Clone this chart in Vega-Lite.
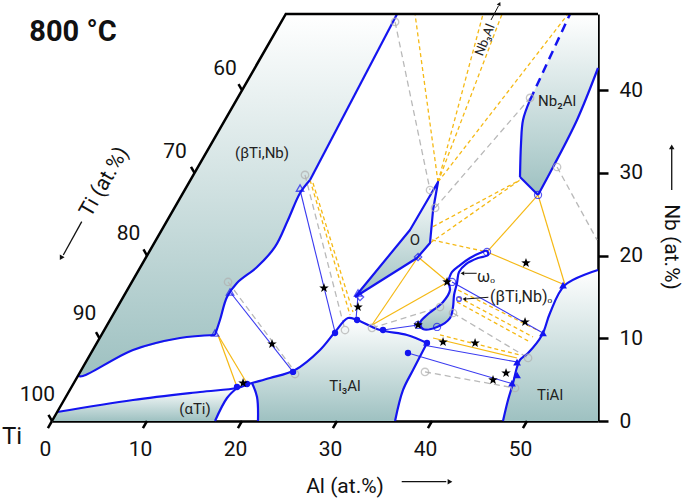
{
"$schema":"https://vega.github.io/schema/vega-lite/v6.json",
"width":546,"height":407,
"autosize":{"type":"none"},
"padding":{"left":52,"top":14,"right":87,"bottom":77},
"background":"white",
"config":{"view":{"stroke":null},"font":"Roboto"},
"datasets":{
"poly":[
{"id":"beta","i":0,"x":2.72,"nb":5.44},{"id":"beta","i":1,"x":24.61,"nb":49.21},{"id":"beta","i":2,"x":36.32,"nb":49.21},{"id":"beta","i":3,"x":27.16,"nb":29.14},{"id":"beta","i":4,"x":26.11,"nb":27.57},{"id":"beta","i":5,"x":24.84,"nb":24.30},{"id":"beta","i":6,"x":23.47,"nb":21.04},{"id":"beta","i":7,"x":21.58,"nb":18.62},{"id":"beta","i":8,"x":19.47,"nb":16.69},{"id":"beta","i":9,"x":18.42,"nb":14.99},{"id":"beta","i":10,"x":17.68,"nb":12.21},{"id":"beta","i":11,"x":17.16,"nb":10.40},{"id":"beta","i":12,"x":13.47,"nb":10.04},{"id":"beta","i":13,"x":8.53,"nb":8.59},{"id":"beta","i":14,"x":3.26,"nb":5.44},
{"id":"alpha","i":0,"x":0.55,"nb":1.09},{"id":"alpha","i":1,"x":8.53,"nb":2.54},{"id":"alpha","i":2,"x":15.58,"nb":3.51},{"id":"alpha","i":3,"x":19.47,"nb":3.99},{"id":"alpha","i":4,"x":18.42,"nb":2.78},{"id":"alpha","i":5,"x":17.16,"nb":0},{"id":"alpha","i":6,"x":0,"nb":0},
{"id":"ti3al","i":0,"x":21.68,"nb":0},{"id":"ti3al","i":1,"x":21.58,"nb":2.90},{"id":"ti3al","i":2,"x":21.05,"nb":4.59},{"id":"ti3al","i":3,"x":22.95,"nb":5.20},{"id":"ti3al","i":4,"x":25.58,"nb":6.17},{"id":"ti3al","i":5,"x":28.21,"nb":8.59},{"id":"ti3al","i":6,"x":29.79,"nb":10.76},{"id":"ti3al","i":7,"x":31.16,"nb":12.45},{"id":"ti3al","i":8,"x":32.11,"nb":12.21},{"id":"ti3al","i":9,"x":34.53,"nb":11.00},{"id":"ti3al","i":10,"x":37.37,"nb":10.40},{"id":"ti3al","i":11,"x":39.47,"nb":9.43},{"id":"ti3al","i":12,"x":38.00,"nb":6.17},{"id":"ti3al","i":13,"x":36.95,"nb":3.75},{"id":"ti3al","i":14,"x":36.11,"nb":0},
{"id":"tial","i":0,"x":47.47,"nb":0},{"id":"tial","i":1,"x":48.00,"nb":2.54},{"id":"tial","i":2,"x":48.53,"nb":4.59},{"id":"tial","i":3,"x":48.95,"nb":6.53},{"id":"tial","i":4,"x":49.26,"nb":7.38},{"id":"tial","i":5,"x":50.11,"nb":8.22},{"id":"tial","i":6,"x":51.58,"nb":10.40},{"id":"tial","i":7,"x":52.42,"nb":13.06},{"id":"tial","i":8,"x":54.00,"nb":16.44},{"id":"tial","i":9,"x":57.47,"nb":18.26},{"id":"tial","i":10,"x":57.47,"nb":0},
{"id":"nb2al","i":0,"x":50.32,"nb":38.82},{"id":"nb2al","i":1,"x":49.58,"nb":36.40},{"id":"nb2al","i":2,"x":49.37,"nb":33.62},{"id":"nb2al","i":3,"x":49.26,"nb":29.50},{"id":"nb2al","i":4,"x":50.63,"nb":27.93},{"id":"nb2al","i":5,"x":51.16,"nb":27.33},{"id":"nb2al","i":6,"x":52.74,"nb":30.71},{"id":"nb2al","i":7,"x":55.26,"nb":36.40},{"id":"nb2al","i":8,"x":57.47,"nb":42.68},{"id":"nb2al","i":9,"x":57.47,"nb":49.21},{"id":"nb2al","i":10,"x":54.53,"nb":49.21},
{"id":"o","i":0,"x":31.89,"nb":14.99},{"id":"o","i":1,"x":37.68,"nb":23.10},{"id":"o","i":2,"x":40.63,"nb":28.90},{"id":"o","i":3,"x":40.11,"nb":25.51},{"id":"o","i":4,"x":39.79,"nb":21.52},{"id":"o","i":5,"x":38.42,"nb":19.71},
{"id":"bo","i":0,"x":42.63,"nb":16.69},{"id":"bo","i":1,"x":42.32,"nb":15.24},{"id":"bo","i":2,"x":42.21,"nb":13.78},{"id":"bo","i":3,"x":41.89,"nb":12.45},{"id":"bo","i":4,"x":40.53,"nb":11.37},{"id":"bo","i":5,"x":39.05,"nb":11.12},{"id":"bo","i":6,"x":38.74,"nb":11.85},{"id":"bo","i":7,"x":39.47,"nb":12.82},{"id":"bo","i":8,"x":41.16,"nb":14.39},{"id":"bo","i":9,"x":41.89,"nb":15.84},{"id":"bo","i":10,"x":41.68,"nb":16.81}
],
"lines":[
{"k":"b","id":"b1a","i":0,"x":36.32,"nb":49.21},{"k":"b","id":"b1a","i":1,"x":27.16,"nb":29.14},
{"k":"b","id":"b1b","i":0,"x":27.16,"nb":29.14},{"k":"b","id":"b1b","i":1,"x":26.11,"nb":27.57},{"k":"b","id":"b1b","i":2,"x":24.84,"nb":24.30},{"k":"b","id":"b1b","i":3,"x":23.47,"nb":21.04},{"k":"b","id":"b1b","i":4,"x":21.58,"nb":18.62},{"k":"b","id":"b1b","i":5,"x":19.47,"nb":16.69},{"k":"b","id":"b1b","i":6,"x":18.42,"nb":14.99},{"k":"b","id":"b1b","i":7,"x":17.68,"nb":12.21},{"k":"b","id":"b1b","i":8,"x":17.16,"nb":10.40},
{"k":"b","id":"b1c","i":0,"x":17.16,"nb":10.40},{"k":"b","id":"b1c","i":1,"x":13.47,"nb":10.04},{"k":"b","id":"b1c","i":2,"x":8.53,"nb":8.59},{"k":"b","id":"b1c","i":3,"x":3.26,"nb":5.44},{"k":"b","id":"b1c","i":4,"x":2.72,"nb":5.44},
{"k":"b","id":"b2","i":0,"x":0.55,"nb":1.09},{"k":"b","id":"b2","i":1,"x":8.53,"nb":2.54},{"k":"b","id":"b2","i":2,"x":15.58,"nb":3.51},{"k":"b","id":"b2","i":3,"x":19.47,"nb":3.99},{"k":"b","id":"b2","i":4,"x":20.53,"nb":4.40},{"k":"b","id":"b2","i":5,"x":21.05,"nb":4.59},{"k":"b","id":"b2","i":6,"x":22.95,"nb":5.20},{"k":"b","id":"b2","i":7,"x":25.58,"nb":6.17},{"k":"b","id":"b2","i":8,"x":28.21,"nb":8.59},{"k":"b","id":"b2","i":9,"x":29.79,"nb":10.76},{"k":"b","id":"b2","i":10,"x":31.16,"nb":12.45},{"k":"b","id":"b2","i":11,"x":32.11,"nb":12.21},{"k":"b","id":"b2","i":12,"x":34.53,"nb":11.00},{"k":"b","id":"b2","i":13,"x":37.37,"nb":10.40},{"k":"b","id":"b2","i":14,"x":39.47,"nb":9.43},
{"k":"b","id":"b3","i":0,"x":19.47,"nb":3.99},{"k":"b","id":"b3","i":1,"x":18.42,"nb":2.78},{"k":"b","id":"b3","i":2,"x":17.16,"nb":0},
{"k":"b","id":"b4","i":0,"x":21.05,"nb":4.59},{"k":"b","id":"b4","i":1,"x":21.58,"nb":2.90},{"k":"b","id":"b4","i":2,"x":21.68,"nb":0},
{"k":"b","id":"b5","i":0,"x":39.47,"nb":9.43},{"k":"b","id":"b5","i":1,"x":38.00,"nb":6.17},{"k":"b","id":"b5","i":2,"x":36.95,"nb":3.75},{"k":"b","id":"b5","i":3,"x":36.11,"nb":0},
{"k":"b","id":"b6","i":0,"x":47.47,"nb":0},{"k":"b","id":"b6","i":1,"x":48.00,"nb":2.54},{"k":"b","id":"b6","i":2,"x":48.53,"nb":4.59},{"k":"b","id":"b6","i":3,"x":48.95,"nb":6.53},{"k":"b","id":"b6","i":4,"x":49.26,"nb":7.38},{"k":"b","id":"b6","i":5,"x":50.11,"nb":8.22},{"k":"b","id":"b6","i":6,"x":51.58,"nb":10.40},{"k":"b","id":"b6","i":7,"x":52.42,"nb":13.06},{"k":"b","id":"b6","i":8,"x":54.00,"nb":16.44},{"k":"b","id":"b6","i":9,"x":57.47,"nb":18.26},
{"k":"b","id":"b7a","i":0,"x":50.32,"nb":38.82},{"k":"b","id":"b7a","i":1,"x":49.58,"nb":36.40},{"k":"b","id":"b7a","i":2,"x":49.37,"nb":33.62},{"k":"b","id":"b7a","i":3,"x":49.26,"nb":29.50},
{"k":"b","id":"b7b","i":0,"x":49.26,"nb":29.50},{"k":"b","id":"b7b","i":1,"x":51.16,"nb":27.33},
{"k":"b","id":"b7c","i":0,"x":51.16,"nb":27.33},{"k":"b","id":"b7c","i":1,"x":52.74,"nb":30.71},{"k":"b","id":"b7c","i":2,"x":55.26,"nb":36.40},{"k":"b","id":"b7c","i":3,"x":57.47,"nb":42.68},
{"k":"bl","id":"b8","i":0,"x":31.89,"nb":14.99},{"k":"bl","id":"b8","i":1,"x":37.68,"nb":23.10},{"k":"bl","id":"b8","i":2,"x":40.63,"nb":28.90},{"k":"bl","id":"b8","i":3,"x":40.11,"nb":25.51},{"k":"bl","id":"b8","i":4,"x":39.79,"nb":21.52},{"k":"bl","id":"b8","i":5,"x":38.42,"nb":19.71},{"k":"bl","id":"b8","i":6,"x":31.89,"nb":14.99},
{"k":"b","id":"b9","i":0,"x":41.68,"nb":16.81},{"k":"b","id":"b9","i":1,"x":42.11,"nb":18.02},{"k":"b","id":"b9","i":2,"x":42.95,"nb":18.86},{"k":"b","id":"b9","i":3,"x":44.00,"nb":19.71},{"k":"b","id":"b9","i":4,"x":45.05,"nb":20.31},{"k":"b","id":"b9","i":5,"x":45.79,"nb":20.56},{"k":"b","id":"b9","i":6,"x":45.89,"nb":20.07},{"k":"b","id":"b9","i":7,"x":44.84,"nb":19.71},{"k":"b","id":"b9","i":8,"x":43.58,"nb":18.98},{"k":"b","id":"b9","i":9,"x":42.84,"nb":18.02},{"k":"b","id":"b9","i":10,"x":42.63,"nb":16.69},{"k":"b","id":"b9","i":11,"x":42.32,"nb":15.24},{"k":"b","id":"b9","i":12,"x":42.21,"nb":13.78},{"k":"b","id":"b9","i":13,"x":41.89,"nb":12.45},{"k":"b","id":"b9","i":14,"x":40.53,"nb":11.37},{"k":"b","id":"b9","i":15,"x":39.05,"nb":11.12},{"k":"b","id":"b9","i":16,"x":38.74,"nb":11.85},{"k":"b","id":"b9","i":17,"x":39.47,"nb":12.82},{"k":"b","id":"b9","i":18,"x":41.16,"nb":14.39},{"k":"b","id":"b9","i":19,"x":41.89,"nb":15.84},{"k":"b","id":"b9","i":20,"x":41.68,"nb":16.81},
{"k":"bd","id":"bd1","i":0,"x":50.32,"nb":38.82},{"k":"bd","id":"bd1","i":1,"x":54.53,"nb":49.21},
{"k":"t","id":"t1","i":0,"x":18.74,"nb":15.60},{"k":"t","id":"t1","i":1,"x":25.37,"nb":5.93},
{"k":"t","id":"t2","i":0,"x":26.11,"nb":27.93},{"k":"t","id":"t2","i":1,"x":29.79,"nb":10.76},
{"k":"t","id":"t3","i":0,"x":42.11,"nb":16.81},{"k":"t","id":"t3","i":1,"x":51.68,"nb":10.64},
{"k":"t","id":"t4","i":0,"x":39.05,"nb":9.19},{"k":"t","id":"t4","i":1,"x":48.95,"nb":7.13},
{"k":"t","id":"t5","i":0,"x":37.47,"nb":8.22},{"k":"t","id":"t5","i":1,"x":48.21,"nb":4.59},
{"k":"t","id":"t6","i":0,"x":32.21,"nb":15.2},{"k":"t","id":"t6","i":1,"x":32.0,"nb":12.3},
{"k":"t","id":"t7","i":0,"x":34.84,"nb":11.00},{"k":"t","id":"t7","i":1,"x":38.53,"nb":11.61},
{"k":"g","id":"g1","i":0,"x":36.11,"nb":48.25},{"k":"g","id":"g1","i":1,"x":39.79,"nb":27.93},
{"k":"g","id":"g2","i":0,"x":40.32,"nb":25.76},{"k":"g","id":"g2","i":1,"x":50.32,"nb":39.06},
{"k":"g","id":"g3","i":0,"x":53.16,"nb":30.71},{"k":"g","id":"g3","i":1,"x":57.37,"nb":21.89},
{"k":"g","id":"g4","i":0,"x":26.63,"nb":29.75},{"k":"g","id":"g4","i":1,"x":30.84,"nb":11.00},
{"k":"g","id":"g5","i":0,"x":18.53,"nb":16.81},{"k":"g","id":"g5","i":1,"x":25.58,"nb":5.93},
{"k":"g","id":"g6","i":0,"x":33.68,"nb":11.25},{"k":"g","id":"g6","i":1,"x":40.84,"nb":13.78},
{"k":"g","id":"g7","i":0,"x":39.26,"nb":5.93},{"k":"g","id":"g7","i":1,"x":48.74,"nb":3.99},
{"k":"g","id":"g8","i":0,"x":42.21,"nb":13.06},{"k":"g","id":"g8","i":1,"x":50.11,"nb":7.62},
{"k":"o","id":"o1","i":0,"x":17.47,"nb":10.40},{"k":"o","id":"o1","i":1,"x":19.47,"nb":4.11},
{"k":"o","id":"o2","i":0,"x":17.47,"nb":10.40},{"k":"o","id":"o2","i":1,"x":20.63,"nb":4.35},
{"k":"o","id":"o3","i":0,"x":33.68,"nb":11.61},{"k":"o","id":"o3","i":1,"x":38.53,"nb":19.83},
{"k":"o","id":"o4","i":0,"x":33.68,"nb":11.61},{"k":"o","id":"o4","i":1,"x":41.68,"nb":16.81},
{"k":"o","id":"o5","i":0,"x":38.53,"nb":19.83},{"k":"o","id":"o5","i":1,"x":41.68,"nb":16.81},
{"k":"o","id":"o6","i":0,"x":45.79,"nb":20.44},{"k":"o","id":"o6","i":1,"x":54.00,"nb":16.44},
{"k":"o","id":"o7","i":0,"x":45.79,"nb":20.44},{"k":"o","id":"o7","i":1,"x":51.16,"nb":27.33},
{"k":"o","id":"o8","i":0,"x":51.16,"nb":27.33},{"k":"o","id":"o8","i":1,"x":54.00,"nb":16.44},
{"k":"o","id":"o9","i":0,"x":40.11,"nb":10.04},{"k":"o","id":"o9","i":1,"x":48.95,"nb":7.62},
{"k":"d","id":"d1","i":0,"x":40.63,"nb":28.90},{"k":"d","id":"d1","i":1,"x":38.21,"nb":49.21},
{"k":"d","id":"d2","i":0,"x":40.63,"nb":28.90},{"k":"d","id":"d2","i":1,"x":45.37,"nb":49.21},
{"k":"d","id":"d3","i":0,"x":40.63,"nb":28.90},{"k":"d","id":"d3","i":1,"x":47.37,"nb":49.21},
{"k":"d","id":"d4","i":0,"x":40.63,"nb":28.90},{"k":"d","id":"d4","i":1,"x":54.32,"nb":49.21},
{"k":"d","id":"d5","i":0,"x":40.11,"nb":23.5},{"k":"d","id":"d5","i":1,"x":49.26,"nb":29.14},
{"k":"d","id":"d6","i":0,"x":39.79,"nb":21.52},{"k":"d","id":"d6","i":1,"x":49.26,"nb":29.14},
{"k":"d","id":"d7","i":0,"x":27.16,"nb":29.14},{"k":"d","id":"d7","i":1,"x":31.37,"nb":12.82},
{"k":"d","id":"d8","i":0,"x":27.47,"nb":28.78},{"k":"d","id":"d8","i":1,"x":31.68,"nb":13.18},
{"k":"d","id":"d9","i":0,"x":42.74,"nb":15.84},{"k":"d","id":"d9","i":1,"x":51.05,"nb":11.00},
{"k":"d","id":"d10","i":0,"x":42.74,"nb":14.99},{"k":"d","id":"d10","i":1,"x":50.63,"nb":10.16},
{"k":"d","id":"d11","i":0,"x":42.63,"nb":14.39},{"k":"d","id":"d11","i":1,"x":50.32,"nb":9.55},
{"k":"d","id":"d12","i":0,"x":40.84,"nb":10.40},{"k":"d","id":"d12","i":1,"x":49.26,"nb":7.98},
{"k":"d","id":"d13","i":0,"x":40.00,"nb":21.89},{"k":"d","id":"d13","i":1,"x":45.79,"nb":20.44},
{"k":"f","id":"f1","i":0,"x":0,"nb":0},{"k":"f","id":"f1","i":1,"x":24.61,"nb":49.21},{"k":"f","id":"f1","i":2,"x":57.47,"nb":49.21},
{"k":"k","id":"kb0","i":0,"x":0,"nb":0},{"k":"k","id":"kb0","i":1,"x":-0.43,"nb":-0.85},
{"k":"k","id":"kb10","i":0,"x":10,"nb":0},{"k":"k","id":"kb10","i":1,"x":9.57,"nb":-0.85},
{"k":"k","id":"kb20","i":0,"x":20,"nb":0},{"k":"k","id":"kb20","i":1,"x":19.57,"nb":-0.85},
{"k":"k","id":"kb30","i":0,"x":30,"nb":0},{"k":"k","id":"kb30","i":1,"x":29.57,"nb":-0.85},
{"k":"k","id":"kb40","i":0,"x":40,"nb":0},{"k":"k","id":"kb40","i":1,"x":39.57,"nb":-0.85},
{"k":"k","id":"kb50","i":0,"x":50,"nb":0},{"k":"k","id":"kb50","i":1,"x":49.57,"nb":-0.85},
{"k":"k","id":"kl0","i":0,"x":0,"nb":0},{"k":"k","id":"kl0","i":1,"x":-0.37,"nb":0.74},
{"k":"k","id":"kl10","i":0,"x":5,"nb":10},{"k":"k","id":"kl10","i":1,"x":4.63,"nb":10.74},
{"k":"k","id":"kl20","i":0,"x":10,"nb":20},{"k":"k","id":"kl20","i":1,"x":9.63,"nb":20.74},
{"k":"k","id":"kl30","i":0,"x":15,"nb":30},{"k":"k","id":"kl30","i":1,"x":14.63,"nb":30.74},
{"k":"k","id":"kl40","i":0,"x":20,"nb":40},{"k":"k","id":"kl40","i":1,"x":19.63,"nb":40.74},
{"k":"a","id":"a1","i":0,"x":36.81,"nb":-7.34},{"k":"a","id":"a1","i":1,"x":41.5,"nb":-7.34},
{"k":"a","id":"a2","i":0,"x":65.23,"nb":27.93},{"k":"a","id":"a2","i":1,"x":65.23,"nb":32.9},
{"k":"a","id":"a3","i":0,"x":3.13,"nb":24.10},{"k":"a","id":"a3","i":1,"x":1.19,"nb":20.07},
{"k":"s","id":"s1","i":0,"x":44.70,"nb":17.86},{"k":"s","id":"s1","i":1,"x":43.4,"nb":17.86},
{"k":"s","id":"s2","i":0,"x":45.93,"nb":14.96},{"k":"s","id":"s2","i":1,"x":43.6,"nb":14.76},
{"k":"s","id":"s3","i":0,"x":46.21,"nb":48.49},{"k":"s","id":"s3","i":1,"x":47.0,"nb":50.2}
],
"pts":[
{"k":"to","x":18.74,"nb":15.60},{"k":"to","x":26.11,"nb":28.17},{"k":"to","x":17.16,"nb":10.64},{"k":"to","x":32.21,"nb":15.48},
{"k":"tf","x":53.79,"nb":16.44},{"k":"tf","x":51.68,"nb":10.64},{"k":"tf","x":48.95,"nb":7.13},{"k":"tf","x":48.95,"nb":5.56},{"k":"tf","x":48.42,"nb":4.59},
{"k":"cf","x":29.79,"nb":10.64},{"k":"cf","x":25.37,"nb":5.93},{"k":"cf","x":19.47,"nb":4.11},{"k":"cf","x":20.53,"nb":4.47},{"k":"cf","x":32.11,"nb":12.21},{"k":"cf","x":34.84,"nb":11.00},{"k":"cf","x":39.47,"nb":9.43},{"k":"cf","x":37.47,"nb":8.22},
{"k":"co","x":45.79,"nb":20.44},{"k":"co","x":51.16,"nb":27.33},{"k":"co","x":38.53,"nb":11.61},{"k":"co","x":42.11,"nb":16.81},{"k":"co","x":40.53,"nb":11.37},
{"k":"dm","x":38.53,"nb":19.83},{"k":"dm","x":32.42,"nb":14.99},
{"k":"ov","x":42.84,"nb":14.75},
{"k":"gc","x":36.11,"nb":48.25},{"k":"gc","x":39.79,"nb":27.93},{"k":"gc","x":40.32,"nb":25.76},{"k":"gc","x":50.32,"nb":39.06},{"k":"gc","x":53.16,"nb":30.71},{"k":"gc","x":26.63,"nb":29.75},{"k":"gc","x":30.84,"nb":11.00},{"k":"gc","x":18.53,"nb":16.81},{"k":"gc","x":25.58,"nb":5.68},{"k":"gc","x":33.68,"nb":11.25},{"k":"gc","x":40.84,"nb":13.78},{"k":"gc","x":39.26,"nb":5.93},{"k":"gc","x":48.74,"nb":3.99},{"k":"gc","x":42.21,"nb":13.06},{"k":"gc","x":50.11,"nb":7.62},
{"k":"st","x":20.11,"nb":4.59},{"k":"st","x":23.16,"nb":9.31},{"k":"st","x":28.63,"nb":16.08},{"k":"st","x":32.21,"nb":13.78},{"k":"st","x":38.53,"nb":11.61},{"k":"st","x":41.16,"nb":9.55},{"k":"st","x":44.53,"nb":9.43},{"k":"st","x":41.58,"nb":16.81},{"k":"st","x":49.79,"nb":11.97},{"k":"st","x":49.89,"nb":19.11},{"k":"st","x":47.79,"nb":5.80},{"k":"st","x":46.42,"nb":4.96}
],
"heads":[
{"k":"r","x":41.89,"nb":-7.34},{"k":"u","x":65.23,"nb":33.13},{"k":"dl","x":0.95,"nb":19.71},{"k":"l","x":43.2,"nb":17.86},{"k":"l","x":43.4,"nb":14.74},{"k":"n","x":47.1,"nb":50.45}
],
"txt":[
{"k":"in","t":"(βTi,Nb)","x":22.11,"nb":32.41},{"k":"in","t":"(αTi)","x":15.05,"nb":1.45},{"k":"in","t":"Ti₃Al","x":30.84,"nb":4.23},{"k":"in","t":"TiAl","x":52.42,"nb":3.14},{"k":"in","t":"O","x":38.21,"nb":21.89},{"k":"in","t":"Nb₂Al","x":53.16,"nb":38.69},
{"k":"lab","t":"ωₒ","x":44.74,"nb":17.41},{"k":"lab","t":"(βTi,Nb)ₒ","x":46.11,"nb":15.05},
{"k":"tk","t":"60","x":18.21,"nb":42.50},{"k":"tk","t":"70","x":12.95,"nb":32.47},{"k":"tk","t":"80","x":8.05,"nb":22.55},{"k":"tk","t":"90","x":3.42,"nb":12.88},{"k":"tk","t":"100","x":-1.53,"nb":3.20},
{"k":"ax","t":"Al (at.%)","x":30.84,"nb":-7.98}
]
},
"encoding":{
"x":{"field":"x","type":"quantitative","scale":{"domain":[0,57.47],"nice":false,"zero":false},
"axis":{"orient":"bottom","values":[0,10,20,30,40,50],"format":"d","ticks":false,"tickSize":0,"labelPadding":17,"labelOffset":-7,"labelFontSize":21,"labelFont":"Roboto","labelColor":"#111","domainColor":"black","domainWidth":2.5,"grid":false,"title":null,"labelFlush":false,"labelOverlap":false}},
"y":{"field":"nb","type":"quantitative","scale":{"domain":[0,49.21],"nice":false,"zero":false},
"axis":{"orient":"right","values":[0,10,20,30,40],"format":"d","tickSize":10,"tickWidth":2.5,"tickColor":"black","labelPadding":11,"labelFontSize":21,"labelFont":"Roboto","labelColor":"#111","domainColor":"black","domainWidth":2.5,"grid":false,"title":null,"labelFlush":false,"labelOverlap":false}}
},
"layer":[
{"data":{"name":"poly"},"mark":{"type":"line","fill":{"gradient":"linear","x1":0,"y1":0,"x2":0,"y2":1,"stops":[{"offset":0,"color":"#ffffff"},{"offset":1,"color":"#9ec1c1"}]},"strokeOpacity":0,"strokeWidth":0},
 "encoding":{"detail":{"field":"id","type":"nominal"},"order":{"field":"i","type":"quantitative"}}},
{"data":{"name":"lines"},"transform":[{"filter":"datum.k==='g'"}],"mark":{"type":"line","color":"#b9b9b9","strokeWidth":1.3,"strokeDash":[6,4]},
 "encoding":{"detail":{"field":"id","type":"nominal"},"order":{"field":"i","type":"quantitative"}}},
{"data":{"name":"lines"},"transform":[{"filter":"datum.k==='d'"}],"mark":{"type":"line","color":"#f5b915","strokeWidth":1.3,"strokeDash":[4,3]},
 "encoding":{"detail":{"field":"id","type":"nominal"},"order":{"field":"i","type":"quantitative"}}},
{"data":{"name":"lines"},"transform":[{"filter":"datum.k==='o'"}],"mark":{"type":"line","color":"#f5b915","strokeWidth":1.2},
 "encoding":{"detail":{"field":"id","type":"nominal"},"order":{"field":"i","type":"quantitative"}}},
{"data":{"name":"lines"},"transform":[{"filter":"datum.k==='t'"}],"mark":{"type":"line","color":"#3a3af0","strokeWidth":1.1},
 "encoding":{"detail":{"field":"id","type":"nominal"},"order":{"field":"i","type":"quantitative"}}},
{"data":{"name":"lines"},"transform":[{"filter":"datum.k==='b'"}],"mark":{"type":"line","color":"#1414f0","strokeWidth":2.2,"strokeJoin":"round","interpolate":"catmull-rom"},
 "encoding":{"detail":{"field":"id","type":"nominal"},"order":{"field":"i","type":"quantitative"}}},
{"data":{"name":"lines"},"transform":[{"filter":"datum.k==='bl'"}],"mark":{"type":"line","color":"#1414f0","strokeWidth":2.2,"strokeJoin":"round"},
 "encoding":{"detail":{"field":"id","type":"nominal"},"order":{"field":"i","type":"quantitative"}}},
{"data":{"name":"lines"},"transform":[{"filter":"datum.k==='bd'"}],"mark":{"type":"line","color":"#1414f0","strokeWidth":2.5,"strokeDash":[9,6]},
 "encoding":{"detail":{"field":"id","type":"nominal"},"order":{"field":"i","type":"quantitative"}}},
{"data":{"name":"lines"},"transform":[{"filter":"datum.k==='f' || datum.k==='k'"}],"mark":{"type":"line","color":"black","strokeWidth":2.5},
 "encoding":{"detail":{"field":"id","type":"nominal"},"order":{"field":"i","type":"quantitative"}}},
{"data":{"name":"lines"},"transform":[{"filter":"datum.k==='a'"}],"mark":{"type":"line","color":"#111","strokeWidth":1.3},
 "encoding":{"detail":{"field":"id","type":"nominal"},"order":{"field":"i","type":"quantitative"}}},
{"data":{"name":"lines"},"transform":[{"filter":"datum.k==='s'"}],"mark":{"type":"line","color":"#111","strokeWidth":1},
 "encoding":{"detail":{"field":"id","type":"nominal"},"order":{"field":"i","type":"quantitative"}}},
{"data":{"name":"pts"},"transform":[{"filter":"datum.k==='gc'"}],"mark":{"type":"point","shape":"circle","filled":false,"color":"#b0b0b0","strokeWidth":1.3,"size":55}},
{"data":{"name":"pts"},"transform":[{"filter":"datum.k==='to'"}],"mark":{"type":"point","shape":"triangle-up","filled":false,"color":"#1414f0","strokeWidth":1.3,"size":55}},
{"data":{"name":"pts"},"transform":[{"filter":"datum.k==='tf'"}],"mark":{"type":"point","shape":"triangle-up","filled":true,"color":"#1414f0","opacity":1,"size":60}},
{"data":{"name":"pts"},"transform":[{"filter":"datum.k==='cf'"}],"mark":{"type":"point","shape":"circle","filled":true,"color":"#1414f0","opacity":1,"size":40}},
{"data":{"name":"pts"},"transform":[{"filter":"datum.k==='co'"}],"mark":{"type":"point","shape":"circle","filled":false,"color":"#1414f0","strokeWidth":1.2,"size":50}},
{"data":{"name":"pts"},"transform":[{"filter":"datum.k==='dm'"}],"mark":{"type":"point","shape":"diamond","filled":false,"color":"#1414f0","strokeWidth":1.2,"size":55}},
{"data":{"name":"pts"},"transform":[{"filter":"datum.k==='ov'"}],"mark":{"type":"point","shape":"circle","filled":false,"color":"#1414f0","strokeWidth":1.5,"size":22}},
{"data":{"name":"pts"},"transform":[{"filter":"datum.k==='st'"}],"mark":{"type":"point","shape":"M0,-1L0.235,-0.324L0.951,-0.309L0.38,0.124L0.588,0.809L0,0.4L-0.588,0.809L-0.38,0.124L-0.951,-0.309L-0.235,-0.324Z","filled":true,"color":"#000","opacity":1,"size":100}},
{"data":{"name":"heads"},"transform":[{"filter":"datum.k==='r'"}],"mark":{"type":"point","shape":"triangle-right","filled":true,"color":"#111","opacity":1,"size":30}},
{"data":{"name":"heads"},"transform":[{"filter":"datum.k==='u'"}],"mark":{"type":"point","shape":"triangle-up","filled":true,"color":"#111","opacity":1,"size":30}},
{"data":{"name":"heads"},"transform":[{"filter":"datum.k==='dl'"}],"mark":{"type":"point","shape":"triangle-up","angle":210,"filled":true,"color":"#111","opacity":1,"size":30}},
{"data":{"name":"heads"},"transform":[{"filter":"datum.k==='l'"}],"mark":{"type":"point","shape":"triangle-left","filled":true,"color":"#111","opacity":1,"size":18}},
{"data":{"name":"heads"},"transform":[{"filter":"datum.k==='n'"}],"mark":{"type":"point","shape":"triangle-up","angle":27,"filled":true,"color":"#111","opacity":1,"size":18}},
{"data":{"name":"txt"},"transform":[{"filter":"datum.k==='in'"}],"mark":{"type":"text","font":"Roboto","fontSize":15,"color":"#222","align":"center","baseline":"middle"},"encoding":{"text":{"field":"t"}}},
{"data":{"name":"txt"},"transform":[{"filter":"datum.k==='lab'"}],"mark":{"type":"text","font":"Roboto","fontSize":16,"color":"#222","align":"left","baseline":"middle"},"encoding":{"text":{"field":"t"}}},
{"data":{"name":"txt"},"transform":[{"filter":"datum.k==='tk' || datum.k==='ax'"}],"mark":{"type":"text","font":"Roboto","fontSize":21,"color":"#111","align":"center","baseline":"middle"},"encoding":{"text":{"field":"t"}}},
{"data":{"values":[{"t":"Nb (at.%)","x":65.16,"nb":21.04}]},"mark":{"type":"text","font":"Roboto","fontSize":21,"color":"#111","align":"center","baseline":"middle","angle":90},"encoding":{"text":{"field":"t"}}},
{"data":{"values":[{"t":"Ti (at.%)","x":5.53,"nb":28.90}]},"mark":{"type":"text","font":"Roboto","fontSize":21,"color":"#111","align":"center","baseline":"middle","angle":-60},"encoding":{"text":{"field":"t"}}},
{"data":{"values":[{"t":"Nb₃Al","x":45.58,"nb":46.07}]},"mark":{"type":"text","font":"Roboto","fontSize":13,"color":"#222","align":"center","baseline":"middle","angle":-68},"encoding":{"text":{"field":"t"}}},
{"data":{"values":[{"t":"Ti","x":-4.21,"nb":-1.93}]},"mark":{"type":"text","font":"Roboto","fontSize":24,"color":"#111","align":"center","baseline":"middle"},"encoding":{"text":{"field":"t"}}},
{"data":{"values":[{"t":"800 °C","x":2.21,"nb":47.04}]},"mark":{"type":"text","font":"Roboto","fontSize":29,"fontWeight":"bold","color":"#111","align":"center","baseline":"middle"},"encoding":{"text":{"field":"t"}}}
]
}
